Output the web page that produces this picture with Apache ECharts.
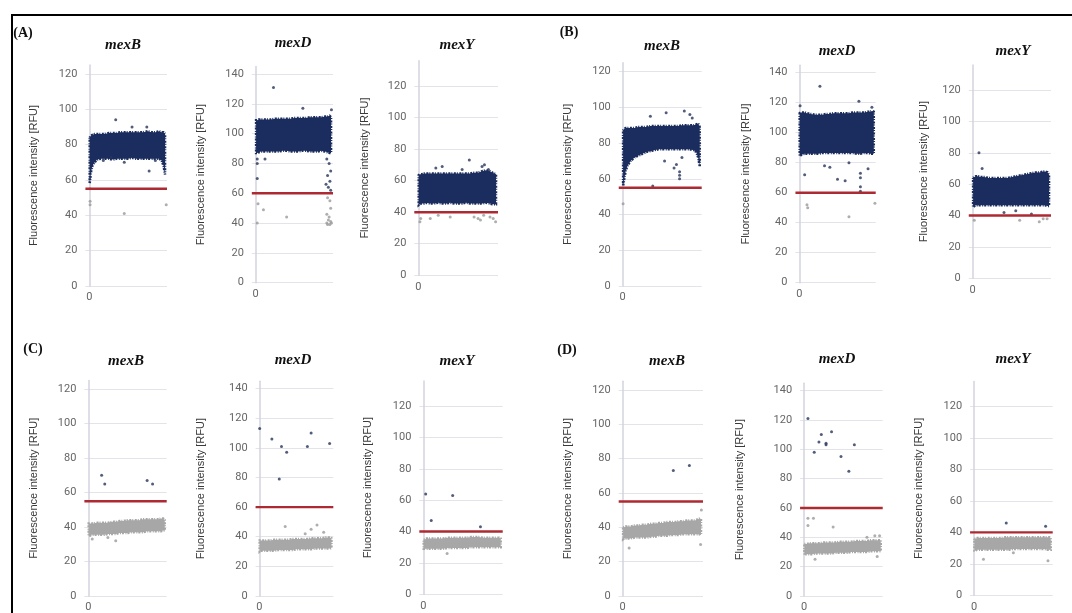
<!DOCTYPE html>
<html>
<head>
<meta charset="utf-8">
<script src="https://cdn.jsdelivr.net/npm/echarts@6/dist/echarts.min.js"></script>
<style>
html, body { margin: 0; padding: 0; background: #fff; }
#main { width: 1072px; height: 613px; }
</style>
</head>
<body>
<div id="main"></div>
<script>
// genes and their cut-off lines
var genes = ['mexB', 'mexD', 'mexY'];
var thresholds = [55, 60, 40];
var yMaxes = [125, 145, 136];
var groupLabels = ['(A)', '(B)', '(C)', '(D)'];

// x positions where the edges of each dense cloud were read
var bandX = [0.5, 2, 4, 7, 10, 15, 20, 25, 30, 35, 40, 45, 50, 55, 60, 65, 70, 75, 80, 85, 90, 93, 95.5, 97.5];

// (A)
var aMexBLow  = [58, 64, 68, 70, 71.5, 72, 72, 72, 71.5, 72, 72, 72, 72, 72.5, 72, 72, 72, 72, 72, 72, 72, 71, 68, 63];
var aMexBHigh = [84, 85, 85.5, 86, 86, 86, 86, 86.5, 86.5, 86.5, 87, 87, 87, 87, 87, 87, 87, 87.5, 87, 87, 87.5, 87, 87, 86];
var aMexBPoints = [[34, 94], [55, 90], [74, 90], [28, 73], [45, 70], [77, 65], [85, 71], [18, 71], [1, 55], [1, 48], [1, 46], [45, 41], [99, 46]];

var aMexDLow  = [87, 87, 87.5, 88, 88, 88, 88, 88, 88, 88.5, 88.5, 88, 88, 88, 88.5, 88.5, 88, 88, 88, 88.5, 88, 87.5, 87, 87];
var aMexDHigh = [109, 109, 109.5, 109.5, 109.5, 109.5, 109.5, 110, 110, 110, 110, 110, 110.5, 110.5, 110.5, 110.5, 111, 111, 111, 111, 111.5, 111.5, 112, 111];
var aMexDPoints = [[23, 131], [61, 117], [98, 116], [2, 83], [2, 80], [2, 70], [3, 53], [2, 40], [10, 49], [40, 44], [12, 83],
    [92, 83], [95, 80], [97, 75], [93, 72], [96, 68], [91, 66], [94, 64], [97, 62], [93, 57], [96, 55], [97, 50], [92, 46],
    [95, 44], [94, 42], [97, 41], [92, 40], [96, 39], [93, 39], [98, 40]];

var aMexYLow  = [44.5, 45, 45.5, 45.5, 46, 45.5, 45.5, 46, 45.5, 45.5, 46, 45.5, 45.5, 45.5, 46, 45.5, 45.5, 45.5, 45.5, 46, 45.5, 45, 45, 45];
var aMexYHigh = [63.5, 64, 64, 64.5, 64.5, 64.5, 64.5, 64.5, 64.5, 64.5, 64.5, 64.5, 64.5, 64.5, 64.5, 64.5, 65, 65, 66, 66.5, 66, 65, 64.5, 64];
var aMexYPoints = [[22, 68], [30, 69], [55, 67], [64, 73], [80, 69], [83, 70], [88, 67], [2, 34], [3, 36], [15, 36], [25, 38],
    [40, 37], [70, 37], [75, 36], [78, 35], [82, 38], [90, 37], [97, 34], [94, 36]];

// (B)
var bMexBLow  = [56, 60, 65, 68, 70, 72, 73, 74, 75, 75.5, 76, 76.5, 76.5, 76.5, 76.5, 76.5, 76.5, 76.5, 76.5, 76.5, 76, 75, 72, 67];
var bMexBHigh = [87, 88, 88.5, 88.5, 88.5, 88.5, 89, 89, 89, 89.5, 89.5, 89.5, 89.5, 89.5, 89.5, 89.5, 89.5, 90, 90, 90, 90, 90.5, 91, 89];
var bMexBPoints = [[55, 97], [78, 98], [85, 96], [88, 94], [35, 95], [53, 70], [65, 66], [68, 68], [75, 72], [72, 64], [72, 62],
    [72, 60], [38, 56], [0.5, 46]];

var bMexDLow  = [84.5, 85, 85.5, 86, 86, 86, 86, 86, 86.5, 86.5, 86.5, 86.5, 86.5, 86.5, 86.5, 86.5, 86.5, 86, 86, 86.5, 86.5, 86, 86, 86];
var bMexDHigh = [113, 113.5, 113.5, 113.5, 113, 112.5, 112, 112, 112, 112.5, 112.5, 113, 113, 113, 113, 113, 113.5, 113.5, 113.5, 113.5, 114, 114, 114.5, 114];
var bMexDPoints = [[27, 131], [78, 121], [1, 118], [95, 117], [33, 78], [40, 77], [7, 72], [50, 69], [60, 68], [65, 80], [80, 73],
    [80, 70], [90, 76], [80, 64], [80, 61], [10, 52], [11, 50], [65, 44], [99, 53]];

var bMexYLow  = [45.5, 46, 46.5, 46.5, 46.5, 46.5, 46.5, 46.5, 46.5, 46.5, 46.5, 46.5, 46.5, 46.5, 46.5, 46.5, 46.5, 46.5, 46.5, 46.5, 46.5, 46.5, 46, 46];
var bMexYHigh = [64, 64.5, 65, 65, 64.5, 64.5, 64, 64, 64, 64, 64, 64, 64.5, 65, 65.5, 66, 66.5, 67, 67.5, 67.5, 68, 68, 67.5, 66];
var bMexYPoints = [[8, 80], [12, 70], [40, 42], [75, 41], [55, 43], [2, 37], [60, 37], [85, 36], [90, 38], [95, 38]];

// (C)
var cMexBLow  = [35, 35, 35.5, 35.5, 35.5, 35.5, 35.5, 36, 36, 36, 36.5, 36.5, 36.5, 37, 37, 37, 37, 37.5, 37.5, 37.5, 37.5, 37.5, 38, 38];
var cMexBHigh = [42, 42, 42, 42, 42.5, 42.5, 42.5, 42.5, 43, 43, 43.5, 43.5, 44, 44, 44, 44, 44.5, 44.5, 44.5, 44.5, 44.5, 45, 45, 44];
var cMexBPoints = [[17, 70], [21, 65], [75, 67], [82, 65], [5, 33], [25, 34], [35, 32]];

var cMexDLow  = [30, 30.5, 30.5, 30.5, 30.5, 30.5, 30.5, 31, 31, 31, 31, 31, 31.5, 31.5, 31.5, 31.5, 31.5, 32, 32, 32, 32, 32, 32, 32.5];
var cMexDHigh = [37.5, 37.5, 37.5, 37.5, 37.5, 37.5, 38, 38, 38, 38, 38, 38.5, 38.5, 38.5, 38.5, 38.5, 39, 39, 39, 39, 39.5, 39.5, 39.5, 39];
var cMexDPoints = [[0.5, 113], [17, 106], [30, 101], [37, 97], [27, 79], [65, 101], [70, 110], [95, 103], [35, 47], [62, 42],
    [70, 45], [78, 48], [87, 43]];

var cMexYLow  = [29, 29, 29, 29, 29, 29, 29, 29, 29.5, 29.5, 29.5, 29.5, 29.5, 29.5, 30, 30, 30, 30, 30, 30, 30, 30, 30, 30];
var cMexYHigh = [35, 35, 35.5, 35.5, 35.5, 35.5, 35.5, 35.5, 36, 36, 36, 36, 36, 36, 36.5, 36.5, 36.5, 36, 36, 36, 36, 36, 36, 35.5];
var cMexYPoints = [[3, 64], [10, 47], [37, 63], [72, 43], [30, 26]];

// (D)
var dMexBLow  = [33, 33.5, 33.5, 33.5, 33.5, 34, 34, 34, 34, 34.5, 34.5, 35, 35, 35, 35.5, 35.5, 35.5, 36, 36, 36, 36, 36, 36, 35.5];
var dMexBHigh = [40, 40, 40.5, 40.5, 40.5, 41, 41, 41.5, 41.5, 42, 42, 42.5, 42.5, 43, 43, 43, 43.5, 43.5, 44, 44, 44, 44.5, 45, 45];
var dMexBPoints = [[63, 73], [83, 76], [8, 28], [97, 30], [98, 50]];

var dMexDLow  = [28, 28.5, 28.5, 28.5, 28.5, 29, 29, 29, 29, 29, 29.5, 29.5, 29.5, 29.5, 30, 30, 30, 30, 30, 30.5, 30.5, 30.5, 30.5, 30.5];
var dMexDHigh = [35.5, 35.5, 35.5, 36, 36, 36, 36, 36.5, 36.5, 36.5, 36.5, 37, 37, 37, 37, 37.5, 37.5, 37.5, 37.5, 38, 38, 38, 38, 38];
var dMexDPoints = [[5, 121], [13, 98], [19, 105], [22, 110], [28, 104], [28, 103], [35, 112], [47, 95], [57, 85], [64, 103],
    [5, 53], [12, 53], [5, 48], [37, 47], [14, 25], [93, 27], [90, 41], [80, 40], [96, 41]];

var dMexYLow  = [28.5, 28.5, 29, 29, 29, 29, 29, 29, 29, 29, 29, 29, 29.5, 29.5, 29.5, 29.5, 29.5, 29.5, 29.5, 29.5, 29.5, 29, 29, 29];
var dMexYHigh = [36, 36, 36.5, 36.5, 36.5, 36.5, 36.5, 36.5, 36.5, 36.5, 37, 37, 37, 37, 37, 37, 37, 37, 37, 37, 37, 37, 37, 36.5];
var dMexYPoints = [[41, 46], [91, 44], [12, 23], [50, 27], [94, 22]];

var panelData = [
    [aMexBLow, aMexBHigh, aMexBPoints], [aMexDLow, aMexDHigh, aMexDPoints], [aMexYLow, aMexYHigh, aMexYPoints],
    [bMexBLow, bMexBHigh, bMexBPoints], [bMexDLow, bMexDHigh, bMexDPoints], [bMexYLow, bMexYHigh, bMexYPoints],
    [cMexBLow, cMexBHigh, cMexBPoints], [cMexDLow, cMexDHigh, cMexDPoints], [cMexYLow, cMexYHigh, cMexYPoints],
    [dMexBLow, dMexBHigh, dMexBPoints], [dMexDLow, dMexDHigh, dMexDPoints], [dMexYLow, dMexYHigh, dMexYPoints]
];

// layout: y-axis x, right end, top, bottom (px), name x, title x, title y
var layout = [
    [89.3, 167, 65, 286, 33, 123, 45], [255.7, 333, 66.6, 282.7, 200, 293, 43], [418.3, 498, 60.7, 275.3, 364, 457, 45],
    [622.7, 701.7, 62.7, 286, 567, 662, 46], [799.3, 875.7, 65.2, 282.7, 745, 837, 51], [972.7, 1051, 64.9, 278.3, 923, 1013, 51],
    [88.3, 166.7, 380.5, 601, 33, 126, 361], [259.3, 333.3, 381.2, 598.3, 200, 293, 360], [423.3, 502.7, 380.9, 594.3, 367, 457, 361],
    [622.7, 703, 381.2, 601, 567, 667, 361], [804, 882.7, 383.2, 600.7, 739, 837, 359], [974, 1052.7, 381.5, 595.3, 918, 1013, 359]
];
var labelPos = [[23, 33], [569, 32], [33, 349], [567, 350]];

var navy = '#1b2d5e';
var grey = '#a7a7a7';

// one polygon per panel: upper edge left to right, lower edge back
function renderBand(params, api) {
    if (params.dataIndex !== 0) {
        return;
    }
    var n = params.dataInsideLength;
    var upper = [];
    var lower = [];
    for (var j = 0; j < n; j++) {
        upper.push(api.coord([api.value(0, j), api.value(2, j)]));
        lower.unshift(api.coord([api.value(0, j), api.value(1, j)]));
    }
    return {
        type: 'polygon',
        shape: { points: upper.concat(lower) },
        style: { fill: api.visual('color'), stroke: api.visual('color'), lineWidth: 2.5, lineDash: [1, 1.5, 2, 1] }
    };
}

function splitColors(max) {
    var colors = [];
    for (var v = 0; v <= max; v += 20) {
        colors.push('#e3e3e9');
    }
    colors.push('rgba(0,0,0,0)');
    return colors;
}

var grids = [], xAxes = [], yAxes = [], series = [], graphics = [];

for (var i = 0; i < 12; i++) {
    var g = i % 3;
    var row = Math.floor(i / 6);
    var L = layout[i];
    var gridLeft = (105 * L[0] - 5 * L[1]) / 100;
    grids.push({ left: gridLeft, top: L[2], width: L[1] - gridLeft, height: L[3] - L[2] });

    xAxes.push({
        type: 'value', gridIndex: i, min: -5, max: 100, interval: 5,
        axisLine: { show: false }, axisTick: { show: false }, splitLine: { show: false },
        axisLabel: {
            margin: 6, color: '#666', fontSize: 11, fontFamily: 'Roboto',
            formatter: function (v) { return v === 0 ? '0' : ''; }
        }
    });

    yAxes.push({
        type: 'value', gridIndex: i, min: 0, max: yMaxes[g], interval: 20,
        name: 'Fluorescence intensity [RFU]', nameLocation: 'middle', nameGap: L[0] - L[4] - 10,
        nameTextStyle: { color: '#3a3a3a', fontSize: 11, fontFamily: 'Liberation Sans' },
        axisLine: { show: true, lineStyle: { color: '#d3d3de', width: 1.5 } },
        axisTick: { show: false },
        splitLine: { show: true, lineStyle: { color: splitColors(yMaxes[g]), width: 1 } },
        axisLabel: {
            margin: 8, color: '#666', fontSize: 11, fontFamily: 'Roboto',
            formatter: function (v) { return v % 20 === 0 ? String(v) : ''; }
        }
    });

    var d = panelData[i];
    var band = [];
    for (var k = 0; k < bandX.length; k++) {
        band.push([bandX[k], d[0][k], d[1][k]]);
    }
    var thr = thresholds[g];

    series.push({
        type: 'custom', xAxisIndex: i, yAxisIndex: i, renderItem: renderBand,
        encode: { x: 0, y: [1, 2] }, data: band, silent: true,
        itemStyle: { color: row === 0 ? navy : grey }, z: 2
    });
    series.push({
        type: 'scatter', xAxisIndex: i, yAxisIndex: i, data: d[2], symbolSize: 3, silent: true,
        itemStyle: {
            color: (function (t) {
                return function (p) { return p.value[1] > t ? '#26345a' : '#9a9a9a'; };
            })(thr)
        },
        z: 3
    });
    series.push({
        type: 'line', xAxisIndex: i, yAxisIndex: i, data: [[-5, thr], [100, thr]],
        symbol: 'none', silent: true, lineStyle: { color: '#ad2a32', width: 2.4 }, z: 4
    });

    graphics.push({
        type: 'text', x: L[5], y: L[6],
        style: {
            text: genes[g], textAlign: 'center', textVerticalAlign: 'middle',
            font: 'italic bold 15px "Liberation Serif"', fill: '#111'
        }
    });
}

for (var m = 0; m < 4; m++) {
    graphics.push({
        type: 'text', x: labelPos[m][0], y: labelPos[m][1],
        style: {
            text: groupLabels[m], textAlign: 'center', textVerticalAlign: 'middle',
            font: 'bold 14px "Liberation Serif"', fill: '#111'
        }
    });
}

// frame of the figure
graphics.push({ type: 'line', shape: { x1: 11, y1: 15, x2: 1072, y2: 15 }, style: { stroke: '#000', lineWidth: 2 } });
graphics.push({ type: 'line', shape: { x1: 12, y1: 15, x2: 12, y2: 613 }, style: { stroke: '#000', lineWidth: 2 } });

var myChart = echarts.init(document.getElementById('main'));
myChart.setOption({
    animation: false,
    backgroundColor: '#fff',
    grid: grids,
    xAxis: xAxes,
    yAxis: yAxes,
    series: series,
    graphic: graphics
});
</script>
</body>
</html>
